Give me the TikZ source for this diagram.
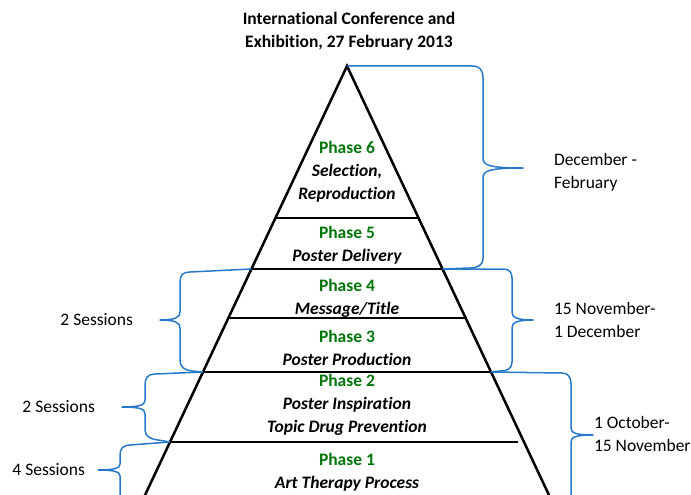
\documentclass[tikz,border=0pt]{standalone}
\usepackage{fontspec}
\setmainfont{Carlito}[Ligatures=NoCommon]
\usetikzlibrary{calc}
\definecolor{phasegreen}{RGB}{0,118,10}
\definecolor{braceblue}{RGB}{38,120,200}
\begin{document}
\begin{tikzpicture}[x=1pt,y=-1pt,
  every node/.style={inner sep=0pt,outer sep=0pt},
  txt/.style={font=\fontsize{17.5}{23}\selectfont,align=center},
  sidetxt/.style={font=\fontsize{17.5}{22.5}\selectfont,align=left},
  edge/.style={line width=2.5pt,black},
  divider/.style={line width=1.6pt,black},
  brace/.style={line width=1.5pt,braceblue,line join=round}]
\useasboundingbox (0,0) rectangle (691,495);
\clip (0,0) rectangle (691,495);

% pyramid outline
\coordinate (apex) at (347,66);
\coordinate (bl) at (138,510);
\coordinate (br) at (556,510);
\draw[edge,line join=miter] (bl) -- (apex) -- (br);

% dividers between the phases
\coordinate (d6l) at (275.5,218); \coordinate (d6r) at (418.5,218);
\coordinate (d5l) at (251.5,269); \coordinate (d5r) at (442.5,269);
\coordinate (d4l) at (228.4,318); \coordinate (d4r) at (465.6,318);
\coordinate (d3l) at (203,372);   \coordinate (d3r) at (491,372);
\coordinate (d2l) at (170,442);   \coordinate (d2r) at (518,442);
\draw[divider] (d6l) -- (d6r);
\draw[divider] (d5l) -- (d5r);
\draw[divider] (d4l) -- (d4r);
\draw[divider] (d3l) -- (d3r);
\draw[divider] (d2l) -- (d2r);

% title
\node[txt,font=\fontsize{17.5}{23}\selectfont\bfseries] (title) at (349,31)
  {International Conference and\\Exhibition, 27 February 2013};

% phase labels
\node[txt] (p6) at (347,172) {{\color{phasegreen}\bfseries Phase 6}\\\bfseries\itshape Selection,\\\bfseries\itshape Reproduction};
\node[txt] (p5) at (347,245) {{\color{phasegreen}\bfseries Phase 5}\\\bfseries\itshape Poster Delivery};
\node[txt] (p4) at (347,298.5) {{\color{phasegreen}\bfseries Phase 4}\\\bfseries\itshape Message/Title};
\node[txt] (p3) at (347,347.5) {{\color{phasegreen}\bfseries Phase 3}\\\bfseries\itshape Poster Production};
\node[txt] (p2) at (347,405) {{\color{phasegreen}\bfseries Phase 2}\\\bfseries\itshape Poster Inspiration\\\bfseries\itshape Topic Drug Prevention};
\node[txt] (p1) at (347,472) {{\color{phasegreen}\bfseries Phase 1}\\\bfseries\itshape Art Therapy Process};

% time spans on the right
\node[sidetxt,anchor=west] (t1) at (554,172.5) {December -\\February};
\node[sidetxt,anchor=west] (t2) at (554,320) {15 November-\\1 December};
\node[sidetxt,anchor=west] (t3) at (594,434) {1 October-\\15 November};

% session counts on the left
\node[sidetxt,anchor=east] (s1) at (133,320) {2 Sessions};
\node[sidetxt,anchor=east] (s2) at (95,407) {2 Sessions};
\node[sidetxt,anchor=east] (s3) at (85,470) {4 Sessions};

% right braces
\draw[brace] (apex) -- (472,66) .. controls (480,66) and (483,70) .. (483,78)
  -- (483,158) .. controls (483,165) and (488,168) .. (523,168)
  .. controls (488,168) and (483,171) .. (483,178)
  -- (483,258) .. controls (483,265) and (478,268) .. (470,268) -- (d5r);
\draw[brace] (d5r) -- (503,269) .. controls (509,269) and (512,272) .. (512,278)
  -- (512,312) .. controls (512,317) and (516,320) .. (533,320)
  .. controls (516,320) and (512,323) .. (512,328)
  -- (512,362) .. controls (512,368) and (508,371) .. (500,371) -- (d3r);
\draw[brace] (d3r) -- (562,373) .. controls (568,373) and (571,377) .. (571,384)
  -- (571,428) .. controls (571,433) and (576,435) .. (593,435)
  .. controls (576,435) and (571,437) .. (571,442) -- (571,505);

% left braces
\draw[brace] (d5l) -- (190,272) .. controls (183,272) and (180,275) .. (180,282)
  -- (180,312) .. controls (180,317) and (176,320) .. (160,320)
  .. controls (176,320) and (180,323) .. (180,328)
  -- (180,360) .. controls (180,367) and (184,370) .. (192,371) -- (d3l);
\draw[brace] (d3l) -- (155,374) .. controls (148,374) and (145,378) .. (145,385)
  -- (145,400) .. controls (145,405) and (140,407) .. (122,407)
  .. controls (140,407) and (145,409) .. (145,414)
  -- (145,430) .. controls (145,436) and (150,439) .. (158,440) -- (d2l);
\draw[brace] (d2l) -- (130,445) .. controls (123,445) and (120,449) .. (120,455)
  -- (120,464) .. controls (120,468) and (115,470) .. (98,470)
  .. controls (115,470) and (120,472) .. (120,476) -- (120,505);
\end{tikzpicture}
\end{document}
